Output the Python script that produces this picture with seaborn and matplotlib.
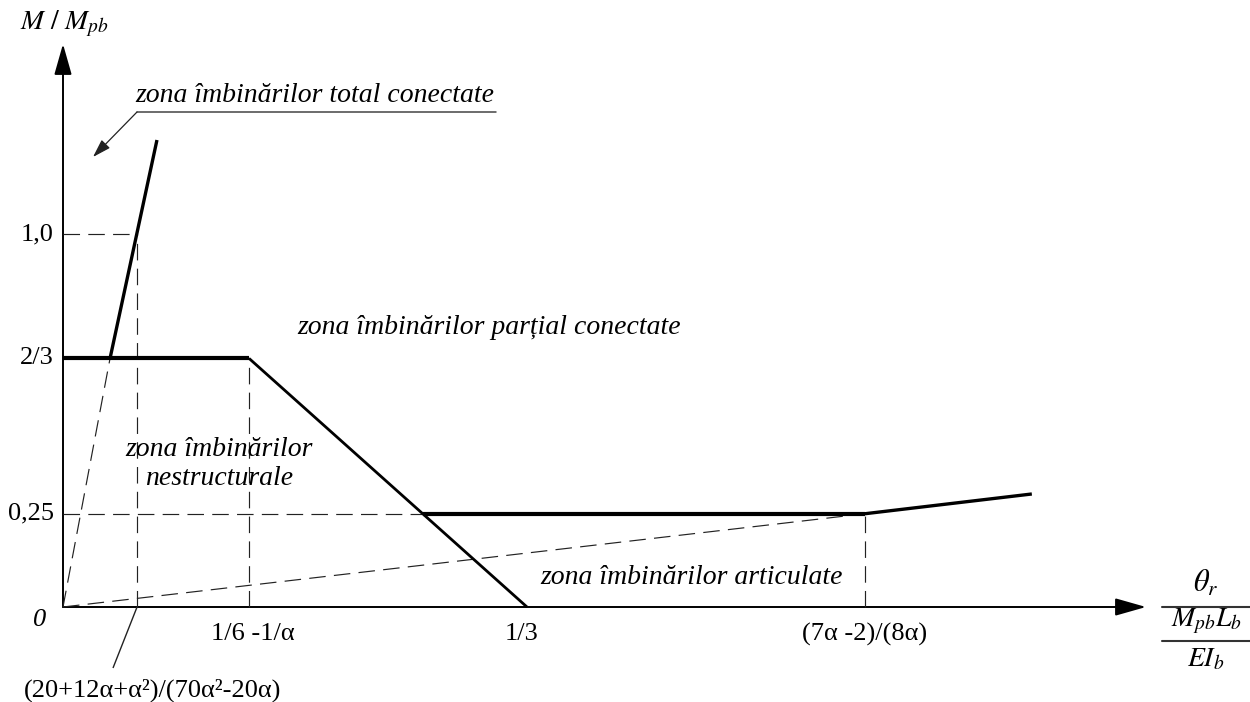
import numpy as np
import pandas as pd
import matplotlib
matplotlib.use("Agg")
import matplotlib.pyplot as plt
import seaborn as sns

# ---------------- data (schematic) ----------------
theta_a = 0.0532      # (20+12α+α²)/(70α²-20α)
theta_b = 0.1336      # 1/6 - 1/α
theta_c = 1 / 3       # 1/3
theta_d = 0.576       # (7α-2)/(8α)
theta_end = 0.696     # end of last segment

m_full = 1.0
m_two_thirds = 2 / 3
m_quarter = 0.25
m_end = 0.303
m_top = 1.252
rigid_x0 = 0.0338     # bottom of rigid-limit line (on 2/3 level)
rigid_x1 = 0.0675     # top of rigid-limit line

y_tick_vals = [m_full, m_two_thirds, m_quarter]
y_tick_labels = ["1,0", "2/3", "0,25"]
x_tick_vals = [theta_b, theta_c, theta_d]
x_tick_labels = ["1/6 -1/α", "1/3", "(7α -2)/(8α)"]
note_label = "(20+12α+α²)/(70α²-20α)"

# intersection of the falling boundary with the 0.25 level
x_int = theta_b + (theta_c - theta_b) * (m_two_thirds - m_quarter) / m_two_thirds

# ---------------- style ----------------
sns.set_theme(style="white")
plt.rcParams["font.family"] = ["Liberation Serif", "DejaVu Serif"]
plt.rcParams["mathtext.fontset"] = "stix"

W, H = 1250, 702
fig = plt.figure(figsize=(W / 100, H / 100), dpi=100)
ax = fig.add_axes([0, 0, 1, 1])
XS, YS = 1392.0, 373.0
X0, Y0 = 63.0, 607.0
ax.set_xlim(-X0 / XS, (W - X0) / XS)
ax.set_ylim(-(H - Y0) / YS, Y0 / YS)
ax.axis("off")


def P(px, py):
    """pixel position -> data position (layout helper for annotations)."""
    return (px - X0) / XS, (Y0 - py) / YS


def seg(xs, ys, lw, dashed=False, color="black"):
    kw = dict(color=color, linewidth=lw, sort=False, estimator=None, ax=ax,
              legend=False)
    if dashed:
        kw["linestyle"] = (0, (14, 7))
    df = pd.DataFrame({"x": xs, "y": ys})
    sns.lineplot(data=df, x="x", y="y", **kw)
    ax.lines[-1].set_solid_capstyle("butt")


dash_col = "#222222"
dlw = 0.85

# ---------------- dashed construction lines ----------------
seg([0, theta_a], [m_full, m_full], dlw, True, dash_col)
seg([theta_a, theta_a], [0, m_full], dlw, True, dash_col)
seg([0, rigid_x0], [0, m_two_thirds], dlw, True, dash_col)
seg([theta_b, theta_b], [0, m_two_thirds], dlw, True, dash_col)
seg([0, x_int], [m_quarter, m_quarter], dlw, True, dash_col)
seg([theta_d, theta_d], [0, m_quarter], dlw, True, dash_col)
seg([0, theta_d], [0, m_quarter], dlw, True, dash_col)

# ---------------- boundary lines ----------------
seg([rigid_x0, rigid_x1], [m_two_thirds, m_top], 2.4)
seg([0, theta_b], [m_two_thirds, m_two_thirds], 3.0)
seg([theta_b, theta_c], [m_two_thirds, 0], 2.0)
seg([x_int, theta_d], [m_quarter, m_quarter], 3.0)
seg([theta_d, theta_end], [m_quarter, m_end], 2.4)

# ---------------- axes with arrows ----------------
for tip in (P(1146, Y0), P(X0, 44)):
    ax.annotate("", xy=tip, xytext=(0, 0),
                arrowprops=dict(arrowstyle="-|>,head_length=0.95,head_width=0.27",
                                mutation_scale=20, color="black", lw=1.4,
                                shrinkA=0, shrinkB=0), zorder=1)

# ---------------- tick labels ----------------
fs = 19
for v, lab in zip(y_tick_vals, y_tick_labels):
    ax.text(P(54, 0)[0], v, lab, ha="right", va="center", fontsize=fs,
            color="black")
ax.text(*P(40, 620), "0", ha="center", va="center", fontsize=fs,
        style="italic", color="black")
x_lab_px = [253, 522, 865]
for v, lab, pxx in zip(x_tick_vals, x_tick_labels, x_lab_px):
    ax.text(P(pxx, 0)[0], P(0, 634)[1], lab, ha="center", va="center",
            fontsize=fs, color="black")

# leader to the small theta value
seg([theta_a, P(113, 0)[0]], [0, P(0, 668)[1]], 1.0, False, "#222222")
ax.text(*P(153, 690), note_label, ha="center", va="center", fontsize=fs,
        color="black")

# ---------------- axis titles ----------------
ax.text(*P(64, 24), r"$M\ /\ M_{pb}$", ha="center", va="center",
        fontsize=20, color="black")
ax.text(*P(1206, 584), r"$\theta_r$", ha="center", va="center",
        fontsize=22, color="black")
ax.text(*P(1206, 621), r"$M_{pb}L_b$", ha="center", va="center",
        fontsize=20, color="black")
ax.text(*P(1206, 660), r"$EI_b$", ha="center", va="center",
        fontsize=20, color="black")
ax.plot([P(1162, 0)[0], P(1250, 0)[0]], [P(0, 607)[1]] * 2, color="#333",
        lw=1.5)
ax.plot([P(1162, 0)[0], P(1250, 0)[0]], [P(0, 641)[1]] * 2, color="#333",
        lw=1.5)

# ---------------- zone labels ----------------
zfs = 20
ax.text(*P(315, 96), "zona îmbinărilor total conectate", ha="center",
        va="center", fontsize=zfs, style="italic", color="black")
ax.plot([P(137, 0)[0], P(496, 0)[0]], [P(0, 112)[1]] * 2, color="#444",
        lw=1.1)
ax.annotate("", xy=P(93, 157), xytext=P(137, 112),
            arrowprops=dict(arrowstyle="-|>,head_length=0.7,head_width=0.22",
                            mutation_scale=16, color="#222", lw=0.9,
                            shrinkA=0, shrinkB=0))
ax.text(*P(489, 328), "zona îmbinărilor parțial conectate", ha="center",
        va="center", fontsize=zfs, style="italic", color="black")
ax.text(*P(219, 464), "zona îmbinărilor\nnestructurale", ha="center",
        va="center", fontsize=zfs, style="italic", color="black",
        linespacing=1.25)
ax.text(*P(692, 578), "zona îmbinărilor articulate", ha="center",
        va="center", fontsize=zfs, style="italic", color="black")

fig.savefig("out.png", dpi=100, facecolor="white")
